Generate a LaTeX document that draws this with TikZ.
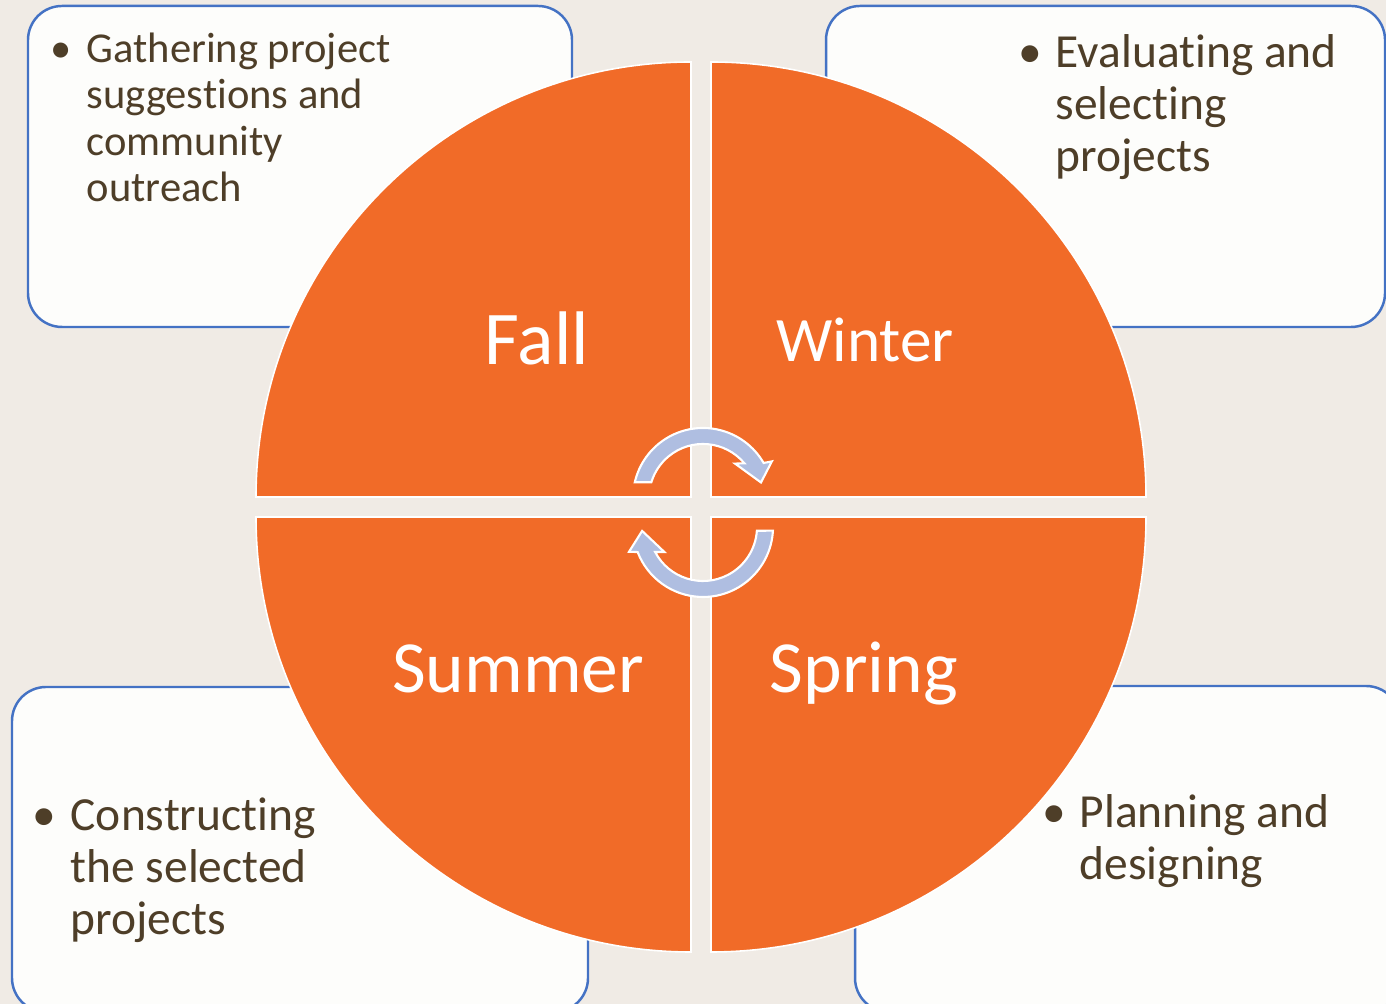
\documentclass[tikz,border=0pt]{standalone}
\usepackage{fontspec}
\setmainfont{Carlito}[Ligatures=NoCommon]
\definecolor{bgbeige}{RGB}{240,235,229}
\definecolor{boxwhite}{RGB}{253,253,251}
\definecolor{boxblue}{RGB}{68,114,196}
\definecolor{seasonorange}{RGB}{241,107,40}
\definecolor{notebrown}{RGB}{78,62,40}
\definecolor{arrowblue}{RGB}{175,190,225}

\begin{document}
\begin{tikzpicture}[x=0.01cm, y=0.01cm,
	notebox/.style={draw=boxblue, fill=boxwhite, line width=0.7pt, rounded corners=0.34cm},
	quarter/.style={fill=seasonorange, draw=white, line width=0.45pt},
	cycarrow/.style={fill=arrowblue, draw=white, line width=0.6pt},
	season/.style={text=white, anchor=base, inner sep=0pt},
	note/.style={text=notebrown, anchor=base west, align=left, inner sep=0pt}]

		\fill[bgbeige] (0,0) rectangle (1386,1004);
		\useasboundingbox (0,0) rectangle (1386,1004);

		\begin{scope}
			\clip (0,0) rectangle (1386,1004);
			\draw[notebox] (28,677) rectangle (572,998);
			\draw[notebox] (826,677) rectangle (1385,998);
			\draw[notebox] (12,-8) rectangle (588,317);
			\draw[notebox] (855,-8) rectangle (1400,318);
		\end{scope}

		\draw[quarter] (691,507) -- ++(-435,0) arc[start angle=180, end angle=90, radius=435] -- cycle;
		\draw[quarter] (711,507) -- ++(0,435) arc[start angle=90, end angle=0, radius=435] -- cycle;
		\draw[quarter] (711,487) -- ++(435,0) arc[start angle=0, end angle=-90, radius=435] -- cycle;
		\draw[quarter] (691,487) -- ++(0,-435) arc[start angle=270, end angle=180, radius=435] -- cycle;

		\begin{scope}[shift={(703,506)}]
			\draw[cycarrow] (167:70) arc[start angle=167, end angle=30, radius=70] -- (28:78) -- (15:60) -- (47:47) -- (40:54) arc[start angle=40, end angle=163, radius=54] -- cycle;
		\end{scope}
		\begin{scope}[shift={(703,477)}]
			\draw[cycarrow] (-3:70) arc[start angle=-3, end angle=-159, radius=70] -- (198.5:78) -- (183.7:61) -- (213:46) -- (-152.4:54) arc[start angle=-152.4, end angle=-4, radius=54] -- cycle;
		\end{scope}

		\node[season, font=\fontsize{21.6}{26}\selectfont] (fall) at (537,639) {Fall};
		\node[season, font=\fontsize{18}{22}\selectfont] (winter) at (865,642) {Winter};
		\node[season, font=\fontsize{20.9}{25}\selectfont] (summer) at (518,311) {Summer};
		\node[season, font=\fontsize{20.9}{25}\selectfont] (spring) at (864,311) {Spring};

		\node[note, font=\fontsize{12.1}{13.25}\selectfont] (gather) at (86,802) {\llap{\textbullet\hspace{4.4pt}}Gathering project\\suggestions and\\community\\outreach};
		\node[note, font=\fontsize{13.5}{14.9}\selectfont] (evaluate) at (1055,832) {\llap{\textbullet\hspace{4pt}}Evaluating and\\selecting\\projects};
		\node[note, font=\fontsize{13.5}{14.9}\selectfont] (construct) at (70,69) {\llap{\textbullet\hspace{4pt}}Constructing\\the selected\\projects};
		\node[note, font=\fontsize{13.5}{14.9}\selectfont] (plan) at (1079,124) {\llap{\textbullet\hspace{4pt}}Planning and\\designing};
	\end{tikzpicture}
\end{document}
